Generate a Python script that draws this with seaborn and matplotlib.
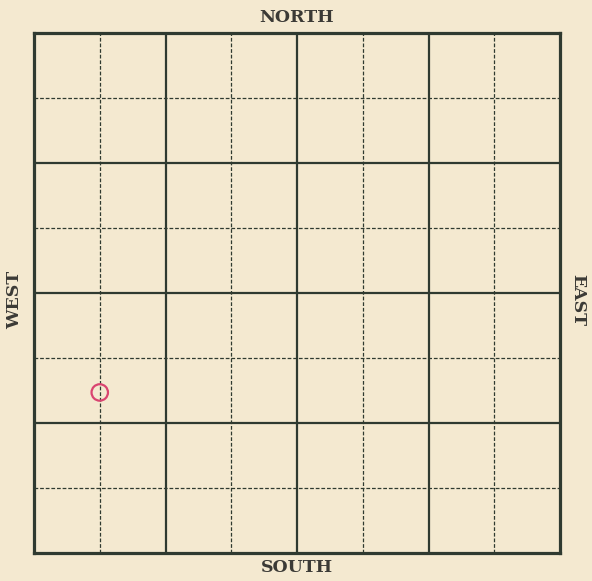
import matplotlib
matplotlib.use("Agg")
import matplotlib.pyplot as plt
import seaborn as sns
import pandas as pd

# Data
n_cells = 8
solid_lines = [2, 4, 6]
dashed_lines = [1, 3, 5, 7]
marker_x = [1.0]
marker_y = [2.47]
directions = ["NORTH", "SOUTH", "WEST", "EAST"]

sns.set_style("white")
plt.rcParams['font.family'] = ['DejaVu Serif', 'DejaVu Sans']

bg = "#f4e9d0"
line_col = "#2f3a30"

fig = plt.figure(figsize=(5.92, 5.81), dpi=100, facecolor=bg)
ax = fig.add_axes([34/592, 28/581, 526/592, 520/581])
ax.set_facecolor(bg)

for v in solid_lines:
    ax.axvline(v, color=line_col, lw=1.6)
    ax.axhline(v, color=line_col, lw=1.6)
for v in dashed_lines:
    ax.axvline(v, color=line_col, lw=0.9, ls=(0, (3, 1.5)))
    ax.axhline(v, color=line_col, lw=0.9, ls=(0, (3, 1.5)))

df = pd.DataFrame({"x": marker_x, "y": marker_y})
sns.scatterplot(data=df, x="x", y="y", ax=ax, marker="o", s=140,
                facecolor="none", edgecolor="#d94470", linewidth=1.6, zorder=5)

ax.set_xlim(0, n_cells)
ax.set_ylim(0, n_cells)
ax.set_xticks([])
ax.set_yticks([])
ax.set_xlabel("")
ax.set_ylabel("")
for s in ax.spines.values():
    s.set_visible(True)
    s.set_color(line_col)
    s.set_linewidth(2.3)

tcol = "#3b3a36"
fs = 12.5
fig.text(297/592, 1 - 18/581, directions[0], ha="center", va="center",
         fontsize=fs, fontweight="bold", color=tcol)
fig.text(297/592, 1 - 568/581, directions[1], ha="center", va="center",
         fontsize=fs, fontweight="bold", color=tcol)
fig.text(15/592, 1 - 300/581, directions[2], ha="center", va="center",
         fontsize=fs, fontweight="bold", color=tcol, rotation=90)
fig.text(578/592, 1 - 300/581, directions[3], ha="center", va="center",
         fontsize=fs, fontweight="bold", color=tcol, rotation=270)

fig.savefig("out.png", dpi=100, facecolor=bg)
